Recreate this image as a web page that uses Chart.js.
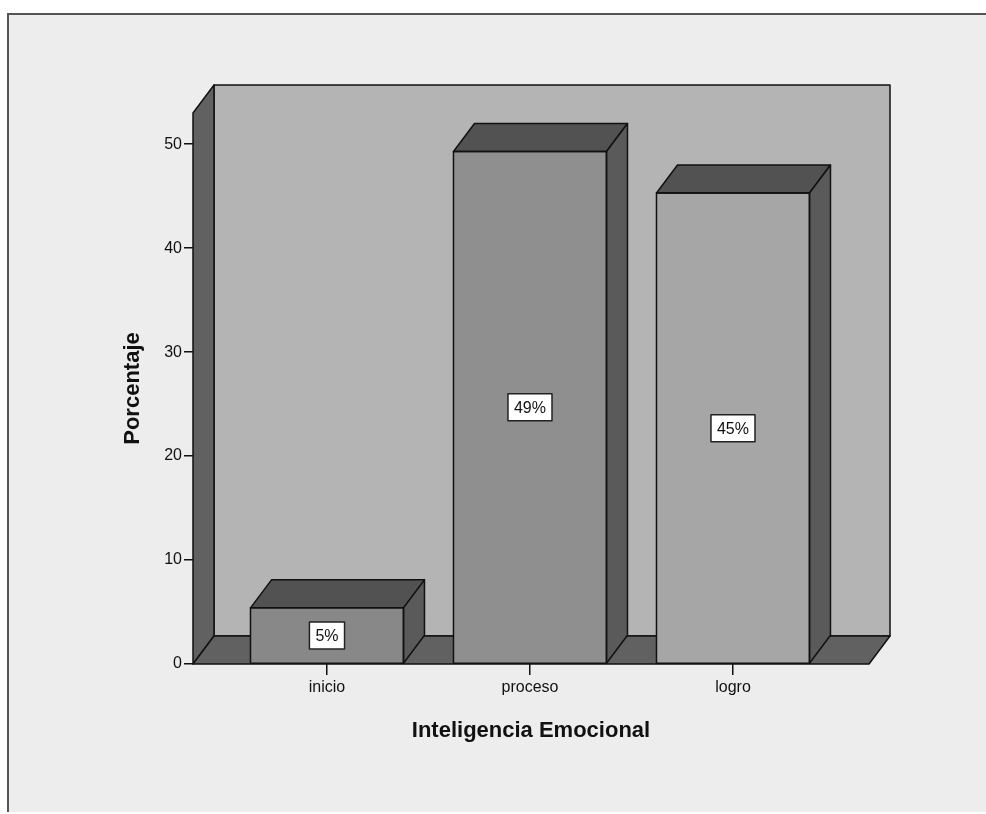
<!DOCTYPE html>
<html>
<head>
<meta charset="utf-8">
<script src="https://cdn.jsdelivr.net/npm/chart.js@4/dist/chart.umd.min.js"></script>
<style>
  html, body { margin: 0; padding: 0; background: #ffffff; }
  #myChart { display: block; }
</style>
</head>
<body>
<canvas id="myChart" width="986" height="814"></canvas>
<script>
// datos del grafico
var categorias = ["inicio", "proceso", "logro"]
var porcentaje = [5.4, 49.3, 45.3]
var etiquetas = ["5%", "49%", "45%"]
var ticksY = [0, 10, 20, 30, 40, 50]

var colores = ["#888888", "#8f8f8f", "#a6a6a6"]
var prof = { dx: 21, dy: -28 }   // profundidad 3d

function poly(ctx, pts, fill) {
    ctx.beginPath()
    ctx.moveTo(pts[0][0], pts[0][1])
    for (var i = 1; i < pts.length; i++) ctx.lineTo(pts[i][0], pts[i][1])
    ctx.closePath()
    ctx.fillStyle = fill
    ctx.fill()
    ctx.stroke()
}

var marco = {
    id: 'marco',
    beforeDraw: function(chart) {
        var ctx = chart.ctx
        ctx.save()
        ctx.fillStyle = "#ffffff"
        ctx.fillRect(0, 0, chart.width, chart.height)
        ctx.fillStyle = "#ededed"
        ctx.fillRect(8, 13, chart.width, 799)
        ctx.strokeStyle = "#555555"
        ctx.lineWidth = 2
        ctx.beginPath()
        ctx.moveTo(8, 812)
        ctx.lineTo(8, 14)
        ctx.lineTo(chart.width, 14)
        ctx.stroke()
        ctx.restore()
    },
    beforeDatasetsDraw: function(chart) {
        var ctx = chart.ctx
        var a = chart.chartArea
        var L = a.left, R = a.right, T = a.top, B = a.bottom
        var dx = prof.dx, dy = prof.dy
        ctx.save()
        ctx.strokeStyle = "#111111"
        ctx.lineWidth = 1.5
        ctx.lineJoin = "round"
        // pared del fondo
        poly(ctx, [[L + dx, T + dy], [R + dx, T + dy], [R + dx, B + dy], [L + dx, B + dy]], "#b4b4b4")
        // pared izquierda
        poly(ctx, [[L, T], [L + dx, T + dy], [L + dx, B + dy], [L, B]], "#616161")
        // piso
        poly(ctx, [[L, B], [L + dx, B + dy], [R + dx, B + dy], [R, B]], "#616161")
        ctx.restore()
    },
    afterDatasetsDraw: function(chart) {
        var ctx = chart.ctx
        var dx = prof.dx, dy = prof.dy
        var meta = chart.getDatasetMeta(0)
        ctx.save()
        ctx.strokeStyle = "#111111"
        ctx.lineWidth = 1.5
        ctx.lineJoin = "round"
        meta.data.forEach(function(bar, i) {
            var p = bar.getProps(['x', 'y', 'base', 'width'], true)
            var l = p.x - p.width / 2, r = p.x + p.width / 2
            // cara superior
            poly(ctx, [[l, p.y], [l + dx, p.y + dy], [r + dx, p.y + dy], [r, p.y]], "#525252")
            // cara lateral
            poly(ctx, [[r, p.y], [r + dx, p.y + dy], [r + dx, p.base + dy], [r, p.base]], "#5a5a5a")
            // contorno del frente
            ctx.strokeRect(l, p.y, p.width, p.base - p.y)
        })
        // etiquetas de porcentaje
        ctx.font = "16px 'Liberation Sans', Arial, sans-serif"
        ctx.textAlign = "center"
        ctx.textBaseline = "middle"
        meta.data.forEach(function(bar, i) {
            var p = bar.getProps(['x', 'y', 'base'], true)
            var cy = (p.y + p.base) / 2
            var txt = etiquetas[i]
            var w = ctx.measureText(txt).width + 12
            var h = 27
            ctx.fillStyle = "#ffffff"
            ctx.fillRect(p.x - w / 2, cy - h / 2, w, h)
            ctx.strokeStyle = "#222222"
            ctx.lineWidth = 1.5
            ctx.strokeRect(p.x - w / 2, cy - h / 2, w, h)
            ctx.fillStyle = "#111111"
            ctx.fillText(txt, p.x, cy + 1)
        })
        ctx.restore()
    }
}

var myChart = document.getElementById("myChart").getContext('2d')

var chart = new Chart(myChart, {
    type: 'bar',
    data: {
        labels: categorias,
        datasets: [
            {
                label: "Porcentaje",
                data: categorias.map(function(c, i) { return { x: i, y: porcentaje[i] } }),
                backgroundColor: colores,
                borderColor: "#111111",
                borderWidth: 0,
                barThickness: 153
            }
        ]
    },
    options: {
        responsive: false,
        animation: false,
        layout: { padding: { left: 0, top: 113, right: 117, bottom: 0 } },
        plugins: {
            legend: { display: false },
            tooltip: { enabled: false }
        },
        scales: {
            x: {
                type: 'linear',
                min: -0.66,
                max: 2.67,
                offset: false,
                afterBuildTicks: function(scale) {
                    scale.ticks = categorias.map(function(c, i) { return { value: i } })
                },
                afterFit: function(scale) { scale.height = 150 },
                ticks: {
                    color: "#111111",
                    font: { family: "'Liberation Sans', Arial, sans-serif", size: 16 },
                    padding: 3,
                    maxRotation: 0,
                    callback: function(v) { return categorias[v] }
                },
                grid: { offset: false, drawOnChartArea: false, drawTicks: true, tickLength: 11, color: "#111111", lineWidth: 1.5 },
                border: { display: false },
                title: {
                    display: true,
                    text: "Inteligencia Emocional",
                    color: "#111111",
                    font: { family: "'Liberation Sans', Arial, sans-serif", size: 22, weight: 'bold' },
                    padding: { top: 0, bottom: 70 }
                }
            },
            y: {
                min: 0,
                max: 53,
                afterBuildTicks: function(scale) {
                    scale.ticks = ticksY.map(function(v) { return { value: v } })
                },
                afterFit: function(scale) { scale.width = 193 },
                ticks: {
                    color: "#111111",
                    font: { family: "'Liberation Sans', Arial, sans-serif", size: 16 },
                    padding: 2
                },
                grid: { drawOnChartArea: false, drawTicks: true, tickLength: 9, color: "#111111", lineWidth: 1.5 },
                border: { display: false },
                title: {
                    display: true,
                    text: "Porcentaje",
                    color: "#111111",
                    font: { family: "'Liberation Sans', Arial, sans-serif", size: 22, weight: 'bold' },
                    padding: { top: 120, bottom: 0 }
                }
            }
        }
    },
    plugins: [marco]
})
</script>
</body>
</html>
